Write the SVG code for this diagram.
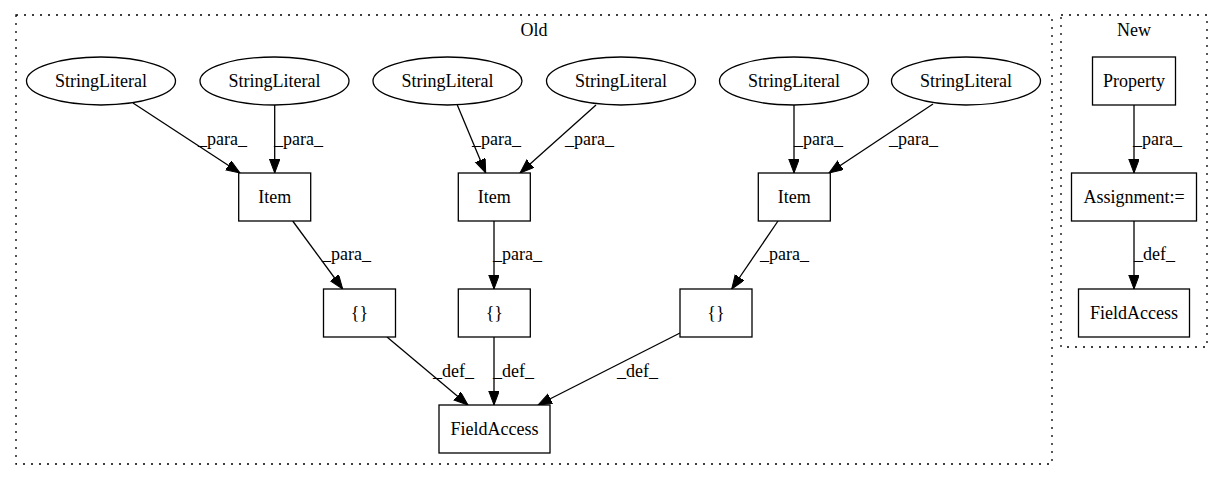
<svg xmlns="http://www.w3.org/2000/svg" width="1227" height="480" viewBox="0 0 1227 480">
  <style>
    text { font-family: "Liberation Serif", "Times New Roman", serif; font-size: 18px; fill: #000; }
    .c { text-anchor: middle; }
    .node { fill: #fff; stroke: #000; stroke-width: 1.3; }
    .cluster { fill: none; stroke: #000; stroke-width: 1.3; stroke-dasharray: 2 6; }
    .edge { fill: none; stroke: #000; stroke-width: 1.3; marker-end: url(#arrow); }
  </style>
  <defs>
    <marker id="arrow" markerUnits="userSpaceOnUse" markerWidth="15" markerHeight="12" refX="14" refY="5.25" orient="auto">
      <path d="M0,0 L14,5.25 L0,10.5 z" fill="#000" stroke="#000" stroke-width="1"/>
    </marker>
  </defs>
  <rect width="1227" height="480" fill="#fff"/>

  <!-- clusters -->
  <g id="cluster-old">
    <rect class="cluster" x="16" y="15" width="1036" height="449"/>
    <text class="c" x="534" y="36">Old</text>
  </g>
  <g id="cluster-new">
    <rect class="cluster" x="1061" y="15" width="146" height="332"/>
    <text class="c" x="1134" y="36">New</text>
  </g>

  <!-- connectors -->
  <g id="edges">
    <path class="edge" d="M133,103 L240,173"/>
    <text x="198" y="145">_para_</text>
    <path class="edge" d="M274.7,105 L274.7,173"/>
    <text x="274" y="145">_para_</text>
    <path class="edge" d="M457.3,105 L485.7,173"/>
    <text x="472" y="145">_para_</text>
    <path class="edge" d="M596,105 L520,173"/>
    <text x="565" y="145">_para_</text>
    <path class="edge" d="M794,105 L794,173"/>
    <text x="794" y="145">_para_</text>
    <path class="edge" d="M933,104 L829,173"/>
    <text x="889" y="145">_para_</text>

    <path class="edge" d="M292.7,221 L342.7,289"/>
    <text x="322" y="260">_para_</text>
    <path class="edge" d="M494,221 L494,289"/>
    <text x="493" y="260">_para_</text>
    <path class="edge" d="M778,221 L731.7,289"/>
    <text x="760" y="260">_para_</text>

    <path class="edge" d="M387,337 L468,405"/>
    <text x="433" y="377">_def_</text>
    <path class="edge" d="M494,337 L494,405"/>
    <text x="493" y="377">_def_</text>
    <path class="edge" d="M680,333 L538,405"/>
    <text x="617" y="377">_def_</text>

    <path class="edge" d="M1134,105 L1134,173"/>
    <text x="1133" y="145">_para_</text>
    <path class="edge" d="M1134,221 L1134,289"/>
    <text x="1134" y="260">_def_</text>
  </g>

  <!-- Old: string literals -->
  <g id="sl1"><ellipse class="node" cx="101" cy="81" rx="74.5" ry="24"/><text class="c" x="101" y="87">StringLiteral</text></g>
  <g id="sl2"><ellipse class="node" cx="274.5" cy="81" rx="74.5" ry="24"/><text class="c" x="274.5" y="87">StringLiteral</text></g>
  <g id="sl3"><ellipse class="node" cx="447.5" cy="81" rx="74.5" ry="24"/><text class="c" x="447.5" y="87">StringLiteral</text></g>
  <g id="sl4"><ellipse class="node" cx="621" cy="81" rx="74.5" ry="24"/><text class="c" x="621" y="87">StringLiteral</text></g>
  <g id="sl5"><ellipse class="node" cx="794" cy="81" rx="74.5" ry="24"/><text class="c" x="794" y="87">StringLiteral</text></g>
  <g id="sl6"><ellipse class="node" cx="966" cy="81" rx="74.5" ry="24"/><text class="c" x="966" y="87">StringLiteral</text></g>

  <!-- Old: items -->
  <g id="item1"><rect class="node" x="238.7" y="173" width="72" height="48"/><text class="c" x="274.7" y="203">Item</text></g>
  <g id="item2"><rect class="node" x="458.3" y="173" width="72" height="48"/><text class="c" x="494.3" y="203">Item</text></g>
  <g id="item3"><rect class="node" x="758.3" y="173" width="72" height="48"/><text class="c" x="794.3" y="203">Item</text></g>

  <!-- Old: array initialisers -->
  <g id="arr1"><rect class="node" x="323.5" y="289" width="72" height="48"/><text class="c" x="359.5" y="319">{}</text></g>
  <g id="arr2"><rect class="node" x="458.3" y="289" width="72" height="48"/><text class="c" x="494.3" y="319">{}</text></g>
  <g id="arr3"><rect class="node" x="680" y="289" width="72" height="48"/><text class="c" x="716" y="319">{}</text></g>

  <!-- Old: target -->
  <g id="fa-old"><rect class="node" x="439" y="405" width="111" height="48"/><text class="c" x="494.5" y="435">FieldAccess</text></g>

  <!-- New -->
  <g id="property"><rect class="node" x="1092.5" y="57" width="83" height="48"/><text class="c" x="1134" y="87">Property</text></g>
  <g id="assignment"><rect class="node" x="1071.5" y="173" width="125" height="48"/><text class="c" x="1134" y="203">Assignment:=</text></g>
  <g id="fa-new"><rect class="node" x="1078.5" y="289" width="111" height="48"/><text class="c" x="1134" y="319">FieldAccess</text></g>
</svg>
